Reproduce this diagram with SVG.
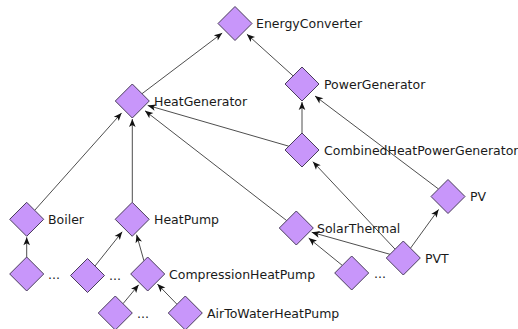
<svg xmlns="http://www.w3.org/2000/svg" xmlns:xlink="http://www.w3.org/1999/xlink" width="518" height="329" viewBox="0 0 518 329">
<style>
.n{fill:#c896fa;stroke:#4a3d5c;stroke-width:1}
.t{font-family:"DejaVu Sans",sans-serif;font-size:12.5px;fill:#1a1a1a}
.e{stroke:#3a3a3a;stroke-width:0.9;fill:none;marker-end:url(#arr)}
</style>
<defs>
<polygon id="dia" points="0,-17 17,0 0,17 -17,0"/>
<marker id="arr" viewBox="-9 -5 10 10" refX="0" refY="0" markerWidth="10" markerHeight="10" orient="auto" markerUnits="userSpaceOnUse">
<path d="M0,0 L-8,-3.3 L-6,0 L-8,3.3 Z" fill="#111"/>
</marker>
</defs>
<rect width="518" height="329" fill="#ffffff"/>
<g id="connectors">
<line class="e" x1="142" y1="93.7" x2="222.2" y2="33.1"/>
<line class="e" x1="293.1" y1="75.9" x2="246.9" y2="34.2"/>
<line class="e" x1="302" y1="133" x2="302" y2="102"/>
<line class="e" x1="288.8" y1="146.2" x2="147.7" y2="105.4"/>
<line class="e" x1="438.5" y1="189" x2="315" y2="96"/>
<line class="e" x1="34.7" y1="210.3" x2="121.6" y2="112.9"/>
<line class="e" x1="132.3" y1="202.3" x2="132.3" y2="119"/>
<line class="e" x1="286.7" y1="220.6" x2="145" y2="110.8"/>
<line class="e" x1="395.1" y1="249.2" x2="312.9" y2="161.7"/>
<line class="e" x1="410.5" y1="248.2" x2="438.6" y2="209.4"/>
<line class="e" x1="390" y1="254.3" x2="311.7" y2="232.3"/>
<line class="e" x1="342.3" y1="265.4" x2="308.7" y2="238.1"/>
<line class="e" x1="26.7" y1="257" x2="26.7" y2="237.3"/>
<line class="e" x1="95" y1="266" x2="122.2" y2="231.8"/>
<line class="e" x1="143.9" y1="260.7" x2="136.6" y2="234.7"/>
<line class="e" x1="123" y1="303.7" x2="138.7" y2="284.8"/>
<line class="e" x1="177" y1="304.3" x2="157.4" y2="284.1"/>
</g>
<g id="EnergyConverter"><use href="#dia" class="n" x="235" y="23.5"/><text class="t" x="256" y="28">EnergyConverter</text></g>
<g id="HeatGenerator"><use href="#dia" class="n" x="132.3" y="101"/><text class="t" x="154" y="105.5">HeatGenerator</text></g>
<g id="PowerGenerator"><use href="#dia" class="n" x="302" y="84"/><text class="t" x="324" y="88.5">PowerGenerator</text></g>
<g id="CombinedHeatPowerGenerator"><use href="#dia" class="n" x="302" y="150"/><text class="t" x="324" y="154.5">CombinedHeatPowerGenerator</text></g>
<g id="PV"><use href="#dia" class="n" x="448" y="196.5"/><text class="t" x="470" y="201">PV</text></g>
<g id="Boiler"><use href="#dia" class="n" x="26.7" y="219.3"/><text class="t" x="48" y="223.8">Boiler</text></g>
<g id="HeatPump"><use href="#dia" class="n" x="132.2" y="219.3"/><text class="t" x="154" y="223.8">HeatPump</text></g>
<g id="SolarThermal"><use href="#dia" class="n" x="296.3" y="228"/><text class="t" x="317" y="232.5">SolarThermal</text></g>
<g id="PVT"><use href="#dia" class="n" x="403.3" y="258"/><text class="t" x="425" y="262.5">PVT</text></g>
<g id="BoilerSub"><use href="#dia" class="n" x="26.7" y="274"/><text class="t" x="48" y="278.5">...</text></g>
<g id="HeatPumpSub"><use href="#dia" class="n" x="87.5" y="275.5"/><text class="t" x="109" y="280">...</text></g>
<g id="CompressionHeatPump"><use href="#dia" class="n" x="147.7" y="274"/><text class="t" x="169" y="278.5">CompressionHeatPump</text></g>
<g id="SolarThermalSub"><use href="#dia" class="n" x="351.7" y="273"/><text class="t" x="374" y="277.5">...</text></g>
<g id="CompressionSub"><use href="#dia" class="n" x="115.3" y="313"/><text class="t" x="137" y="317.5">...</text></g>
<g id="AirToWaterHeatPump"><use href="#dia" class="n" x="185.3" y="313"/><text class="t" x="207" y="317.5">AirToWaterHeatPump</text></g>
</svg>
